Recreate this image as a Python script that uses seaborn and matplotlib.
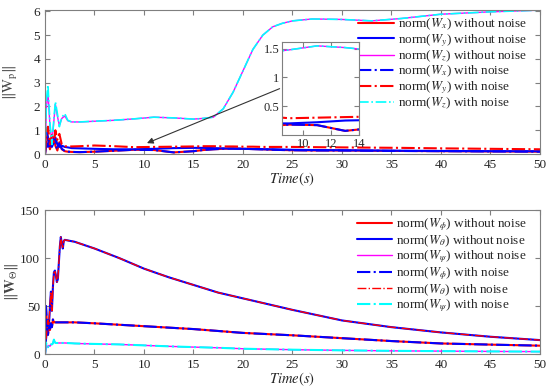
import numpy as np
import seaborn as sns
import matplotlib.pyplot as plt

sns.set_style("ticks")
plt.rcParams['font.family'] = ['Liberation Serif', 'DejaVu Serif']
plt.rcParams['mathtext.fontset'] = 'stix'

# ---- top panel data (||W_p||) ----
t_top = [0, 0.15, 0.3, 0.5, 0.7, 0.9, 1.05, 1.25, 1.45, 1.7, 2.0, 2.3, 2.7, 3.5, 5, 7, 9,
         11, 13, 15, 16, 17, 18, 19, 20, 21, 22, 23, 24, 25, 27, 30, 33, 36, 40, 45, 50]
wx = [0, 1.1, 0.6, 0.2, 0.5, 0.7, 0.35, 0.15, 0.5, 0.2, 0.12, 0.1, 0.09, 0.08, 0.1, 0.14, 0.18,
      0.17, 0.07, 0.12, 0.17, 0.2, 0.22, 0.23, 0.22, 0.21, 0.2, 0.18, 0.17, 0.16, 0.15, 0.15,
      0.14, 0.13, 0.12, 0.11, 0.1]
wy = [0, 0.5, 0.3, 0.6, 0.3, 0.5, 0.7, 0.4, 0.3, 0.35, 0.3, 0.28, 0.25, 0.24, 0.22, 0.2, 0.2,
      0.22, 0.25, 0.26, 0.26, 0.25, 0.24, 0.23, 0.22, 0.21, 0.2, 0.2, 0.19, 0.18, 0.17, 0.16,
      0.15, 0.14, 0.13, 0.12, 0.12]
wz = [0, 2.0, 2.6, 1.2, 0.5, 1.4, 2.1, 1.6, 1.2, 1.5, 1.6, 1.4, 1.35, 1.35, 1.38, 1.42, 1.48,
      1.55, 1.52, 1.47, 1.5, 1.55, 1.9, 2.6, 3.5, 4.4, 5.0, 5.35, 5.5, 5.6, 5.68, 5.66, 5.6,
      5.7, 5.88, 5.98, 6.05]
wx_n = [0, 1.0, 0.7, 0.25, 0.55, 0.65, 0.4, 0.2, 0.45, 0.22, 0.13, 0.1, 0.09, 0.08, 0.1, 0.14,
        0.18, 0.17, 0.07, 0.12, 0.17, 0.2, 0.22, 0.23, 0.22, 0.21, 0.2, 0.18, 0.17, 0.16, 0.15,
        0.15, 0.14, 0.13, 0.12, 0.11, 0.1]
wy_n = [0, 0.9, 1.15, 0.4, 0.8, 0.5, 1.0, 0.6, 0.85, 0.4, 0.33, 0.32, 0.32, 0.33, 0.36, 0.33,
        0.29, 0.3, 0.31, 0.32, 0.33, 0.33, 0.32, 0.32, 0.31, 0.31, 0.3, 0.3, 0.3, 0.3, 0.29,
        0.28, 0.27, 0.26, 0.24, 0.22, 0.2]
wz_n = [0, 2.3, 2.9, 1.3, 0.4, 1.5, 2.2, 1.7, 1.15, 1.55, 1.7, 1.42, 1.35, 1.35, 1.38, 1.42,
        1.48, 1.55, 1.52, 1.47, 1.5, 1.55, 1.9, 2.6, 3.5, 4.4, 5.0, 5.35, 5.5, 5.6, 5.68, 5.66,
        5.6, 5.7, 5.88, 5.98, 6.05]

# ---- bottom panel data (||W_Theta||) ----
t_bot = [0, 0.1, 0.2, 0.3, 0.4, 0.5, 0.6, 0.7, 0.8, 0.9, 1.0, 1.1, 1.2, 1.3, 1.4, 1.5, 1.6,
         1.7, 1.8, 1.9, 2.0, 2.5, 3, 5, 7.5, 10, 12.5, 15, 17.5, 20, 25, 30, 35, 40, 45, 50]
w_phi = [0, 50, 30, 20, 28, 25, 32, 28, 36, 33, 33, 33, 33, 33, 33, 33, 33, 33, 33, 33, 33,
         33, 33, 32, 30.5, 29, 27.5, 26, 24, 22, 19.5, 16.5, 13.5, 11, 9.8, 8.7]
w_theta = [0, 15, 25, 35, 30, 50, 65, 45, 70, 85, 87, 82, 75, 78, 95, 112, 122, 115, 110, 118,
           119, 118, 117, 110, 100, 89, 80, 72, 64, 58, 46, 35, 28, 22.5, 18, 14.5]
w_psi = [0, 12, 8, 7, 9, 8, 10, 10, 11, 15, 12, 11.5, 11.5, 11.5, 11.5, 11.5, 11.5, 11.5, 11.5,
         11.5, 11.5, 11.3, 11, 10.5, 10, 9, 8, 7.2, 6.5, 5.5, 4.5, 3.8, 3.3, 3, 2.7, 2.5]

time_ticks = [0, 5, 10, 15, 20, 25, 30, 35, 40, 45, 50]

RED, BLUE, MAG, CYAN = '#ff0000', '#0000ff', '#ff00ff', '#00ffff'
GRAY = '#7f7f7f'


def style_ax(ax, fs=9.5):
    for s in ax.spines.values():
        s.set_color(GRAY)
        s.set_linewidth(0.8)
    ax.tick_params(direction='in', top=True, right=True, color=GRAY, labelsize=fs,
                   length=3.5, width=0.8)


def draw(ax, x, y, color, ls, lw, label=None):
    sns.lineplot(x=x, y=y, ax=ax, color=color, linestyle=ls, linewidth=lw,
                 label=label, estimator=None, sort=False)


fig = plt.figure(figsize=(5.5, 3.91), dpi=100)
ax1 = fig.add_axes([0.0818, 0.606, 0.9, 0.368])
ax2 = fig.add_axes([0.0818, 0.0946, 0.9, 0.368])

top_series = [
    (wx, RED, '-', 1.5, r'norm($W_x$) without noise'),
    (wy, BLUE, '-', 1.5, r'norm($W_y$) without noise'),
    (wz, MAG, '-', 1.0, r'norm($W_z$) without noise'),
    (wx_n, BLUE, '-.', 1.5, r'norm($W_x$) with noise'),
    (wy_n, RED, '-.', 1.5, r'norm($W_y$) with noise'),
    (wz_n, CYAN, '-.', 1.2, r'norm($W_z$) with noise'),
]
for y, c, ls, lw, lab in top_series:
    draw(ax1, t_top, y, c, ls, lw, lab)

bot_series = [
    (w_phi, RED, '-', 1.5, r'norm($W_\phi$) without noise'),
    (w_theta, BLUE, '-', 1.5, r'norm($W_\theta$) without noise'),
    (w_psi, MAG, '-', 1.0, r'norm($W_\psi$) without noise'),
    (w_phi, BLUE, '-.', 1.5, r'norm($W_\phi$) with noise'),
    (w_theta, RED, '-.', 1.0, r'norm($W_\theta$) with noise'),
    (w_psi, CYAN, '-.', 1.5, r'norm($W_\psi$) with noise'),
]
for y, c, ls, lw, lab in bot_series:
    draw(ax2, t_bot, y, c, ls, lw, lab)

ax1.set_xlim(0, 50)
ax1.set_ylim(0, 6.05)
ax1.set_yticks([0, 1, 2, 3, 4, 5, 6])
ax2.set_xlim(0, 50)
ax2.set_ylim(0, 150)
ax2.set_yticks([0, 50, 100, 150])
for ax in (ax1, ax2):
    ax.set_xticks(time_ticks)
    style_ax(ax)
    ax.set_xlabel(r'$Time(s)$', fontsize=10.5, labelpad=0)
    ax.legend(loc='upper right', bbox_to_anchor=(0.99, 1.01), frameon=False, fontsize=9.5,
              handlelength=2.7, labelspacing=0.0, handletextpad=0.3, borderaxespad=0.2)
    ax.yaxis.set_label_coords(-0.05, 0.5)
ax1.set_ylabel(r'$\Vert\mathrm{W}_{\mathrm{p}}\Vert$', fontsize=10.5, color='#444444')
ax2.set_ylabel(r'$\Vert\mathbf{W}_{\Theta}\Vert$', fontsize=10.5, color='#444444')

# zoomed inset on the small curves
axin = fig.add_axes([0.513, 0.655, 0.14, 0.238])
for y, c, ls, lw, lab in top_series:
    draw(axin, t_top, y, c, ls, lw)
axin.set_xlim(8.5, 14)
axin.set_ylim(0, 1.62)
axin.set_xticks([10, 12, 14])
axin.set_yticks([0.5, 1, 1.5])
axin.set_yticklabels(['0.5', '1', '1.5'])
style_ax(axin, fs=9)
axin.tick_params(pad=2)

ax1.annotate('', xy=(10.3, 0.46), xytext=(23.7, 2.75),
             arrowprops=dict(arrowstyle='-|>', color='#333333', lw=0.8,
                             mutation_scale=9, shrinkA=0, shrinkB=0))

fig.savefig('out.png', dpi=100)
